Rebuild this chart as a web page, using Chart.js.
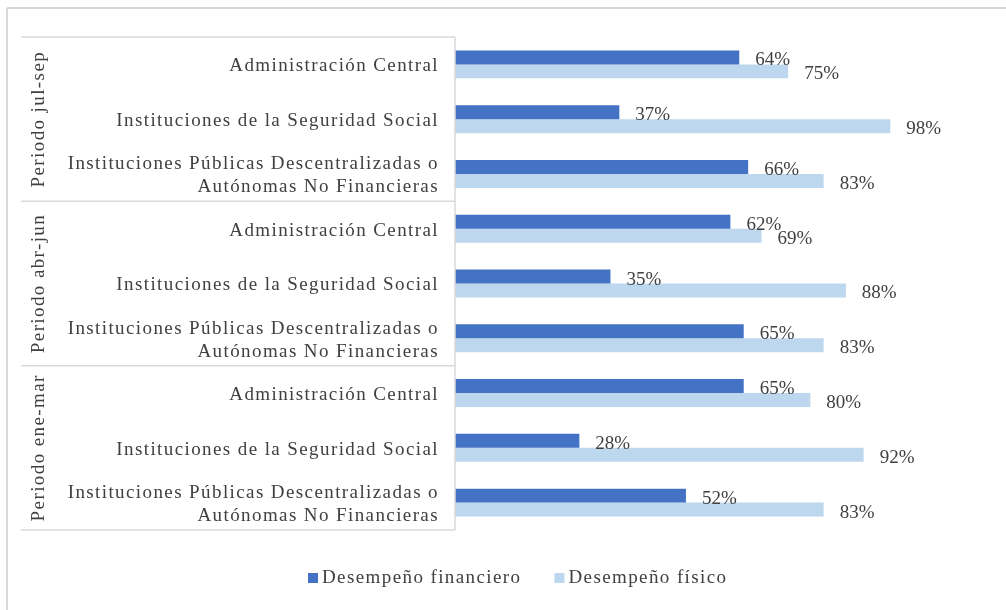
<!DOCTYPE html>
<html>
<head>
<meta charset="utf-8">
<script src="https://cdn.jsdelivr.net/npm/chart.js@4.4.1/dist/chart.umd.min.js"></script>
<style>
  html, body { margin: 0; padding: 0; background: #ffffff; }
  #wrap { width: 1006px; height: 610px; position: relative; }
</style>
</head>
<body>
<div id="wrap"><canvas id="chart"></canvas></div>
<script>
const categories = [
  ["Administración Central"],
  ["Instituciones de la Seguridad Social"],
  ["Instituciones Públicas Descentralizadas o", "Autónomas No Financieras"],
  ["Administración Central"],
  ["Instituciones de la Seguridad Social"],
  ["Instituciones Públicas Descentralizadas o", "Autónomas No Financieras"],
  ["Administración Central"],
  ["Instituciones de la Seguridad Social"],
  ["Instituciones Públicas Descentralizadas o", "Autónomas No Financieras"],
];
const periods = ["Periodo jul-sep", "Periodo abr-jun", "Periodo ene-mar"];
const financiero = [64, 37, 66, 62, 35, 65, 65, 28, 52];
const fisico = [75, 98, 83, 69, 88, 83, 80, 92, 83];
const seriesNames = ["Desempeño financiero", "Desempeño físico"];
const seriesColors = ["#4472C4", "#BDD7EE"];

const SERIF = '"Liberation Serif", "Times New Roman", serif';
const LINE = "#d9d9d9";

const decorations = {
  id: "decorations",
  afterDraw(chart) {
    const ctx = chart.ctx;
    const area = chart.chartArea;
    const yScale = chart.scales.y;
    const step = (area.bottom - area.top) / categories.length;

    ctx.save();
    // outer frame
    ctx.strokeStyle = LINE;
    ctx.lineWidth = 2;
    ctx.beginPath();
    ctx.moveTo(7, 8);
    ctx.lineTo(1006, 8);
    ctx.moveTo(7, 8);
    ctx.lineTo(7, 610);
    ctx.stroke();

    // category axis box
    ctx.lineWidth = 1.5;
    ctx.beginPath();
    ctx.moveTo(area.left, area.top);
    ctx.lineTo(area.left, area.bottom);
    for (let g = 0; g <= periods.length; g++) {
      const y = area.top + g * 3 * step;
      ctx.moveTo(21, y);
      ctx.lineTo(area.left, y);
    }
    ctx.stroke();

    // category labels
    ctx.fillStyle = "#404040";
    ctx.font = "19px " + SERIF;
    ctx.letterSpacing = "1.4px";
    ctx.textAlign = "right";
    ctx.textBaseline = "middle";
    categories.forEach((lines, i) => {
      const yc = yScale.getPixelForValue(i) + 2;
      const lh = 23;
      lines.forEach((t, k) => {
        const y = yc + (k - (lines.length - 1) / 2) * lh;
        ctx.fillText(t, area.left - 16, y);
      });
    });

    // period labels (rotated)
    ctx.textAlign = "center";
    periods.forEach((p, g) => {
      const yc = area.top + (g * 3 + 1.5) * step;
      ctx.save();
      ctx.translate(39, yc);
      ctx.rotate(-Math.PI / 2);
      ctx.fillText(p, 0, 0);
      ctx.restore();
    });

    // data labels
    ctx.letterSpacing = "0px";
    ctx.font = "19px " + SERIF;
    ctx.textAlign = "left";
    chart.data.datasets.forEach((ds, di) => {
      const meta = chart.getDatasetMeta(di);
      meta.data.forEach((bar, i) => {
        ctx.fillText(ds.data[i] + "%", bar.x + 16, bar.y + 3);
      });
    });

    // legend
    ctx.font = "19px " + SERIF;
    ctx.letterSpacing = "1.4px";
    ctx.textAlign = "left";
    const ly = 578;
    let lx = 308;
    chart.data.datasets.forEach((ds, di) => {
      ctx.fillStyle = ds.backgroundColor;
      ctx.fillRect(lx, ly - 5, 10, 10);
      ctx.fillStyle = "#404040";
      ctx.fillText(ds.label, lx + 14, ly);
      lx += 14 + ctx.measureText(ds.label).width + 33;
    });
    ctx.restore();
  },
};

new Chart(document.getElementById("chart"), {
  type: "bar",
  data: {
    labels: categories.map((c) => c.join(" ")),
    datasets: [
      {
        label: seriesNames[0],
        data: financiero,
        backgroundColor: seriesColors[0],
        barPercentage: 1,
        categoryPercentage: 0.51,
      },
      {
        label: seriesNames[1],
        data: fisico,
        backgroundColor: seriesColors[1],
        barPercentage: 1,
        categoryPercentage: 0.51,
      },
    ],
  },
  options: {
    indexAxis: "y",
    responsive: true,
    maintainAspectRatio: false,
    animation: false,
    layout: {
      padding: { left: 455, right: 18, top: 37, bottom: 80 },
    },
    scales: {
      x: { display: false, min: 0, max: 120 },
      y: { display: false },
    },
    plugins: {
      legend: { display: false },
      tooltip: { enabled: false },
    },
  },
  plugins: [decorations],
});
</script>
</body>
</html>
